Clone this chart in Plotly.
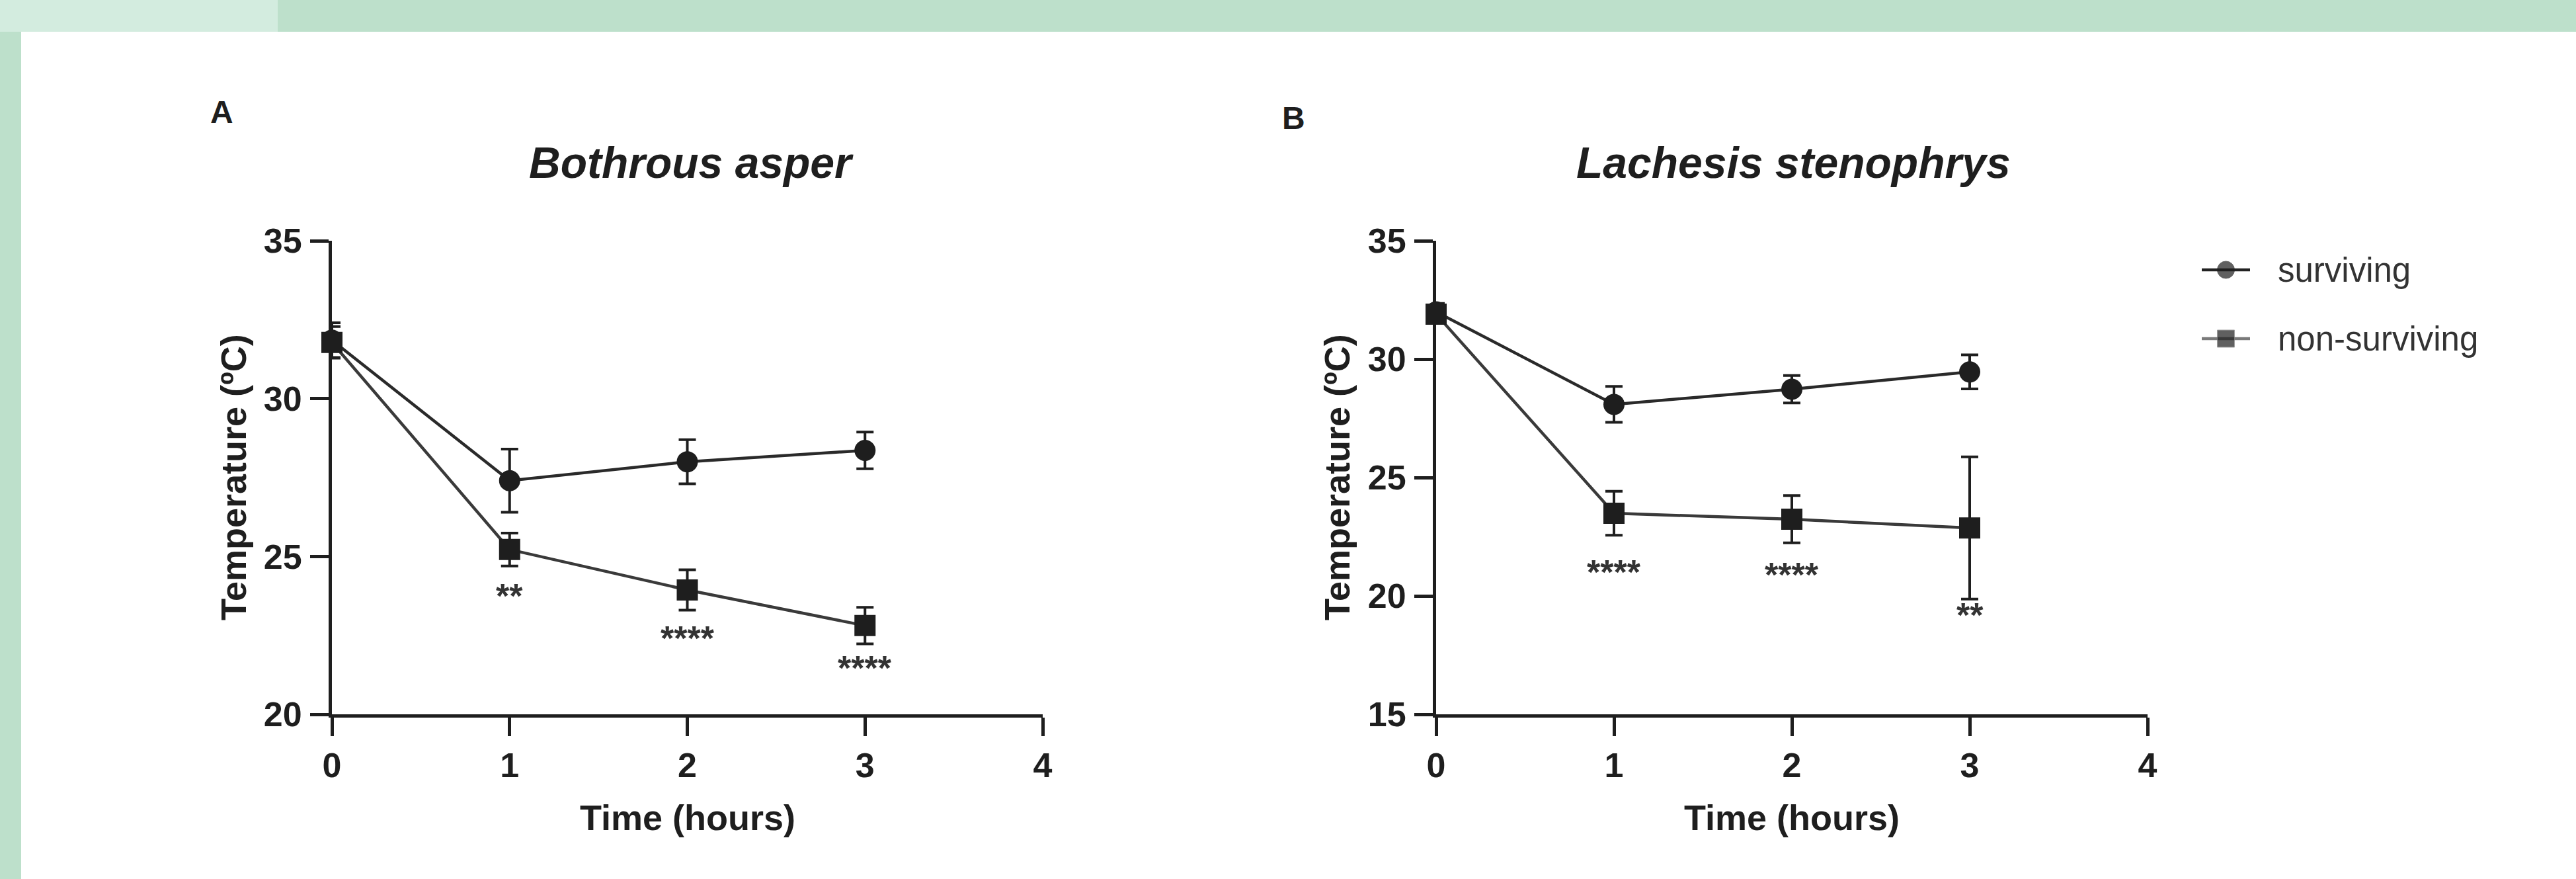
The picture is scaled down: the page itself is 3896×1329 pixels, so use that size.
import plotly.graph_objects as go

# ---------------- data ----------------
time_h = [0, 1, 2, 3]

a_surv_mean = [31.85, 27.4, 28.0, 28.36]
a_surv_err = [0.55, 1.0, 0.7, 0.58]
a_non_mean = [31.78, 25.22, 23.94, 22.81]
a_non_err = [0.5, 0.52, 0.64, 0.58]

b_surv_mean = [32.0, 28.09, 28.73, 29.46]
b_surv_err = [0.35, 0.76, 0.58, 0.72]
b_non_mean = [31.9, 23.49, 23.24, 22.87]
b_non_err = [0.35, 0.93, 1.0, 3.0]

a_sig_x = [1, 2, 3]
a_sig_y = [23.86, 22.52, 21.58]
a_sig_txt = ["**", "****", "****"]
b_sig_x = [1, 2, 3]
b_sig_y = [21.14, 21.03, 19.32]
b_sig_txt = ["****", "****", "**"]

x_ticks = [0, 1, 2, 3, 4]
a_y_ticks = [20, 25, 30, 35]
b_y_ticks = [15, 20, 25, 30, 35]
a_title = "Bothrous asper"
b_title = "Lachesis stenophrys"
panel_labels = ["A", "B"]
series_names = ["surviving", "non-surviving"]
x_title = "Time (hours)"
y_title = "Temperature (ºC)"

# ---------------- geometry ----------------
W, H = 3896, 1329
FONT = "Liberation Sans, Arial, Helvetica, sans-serif"
INK = "#1e1e1e"


def px(x):
    return x / W


def py(y):
    return 1 - y / H


y_dom = [py(1080), py(364)]
a_dom = [px(502), px(1577)]
b_dom = [px(2172), px(3248)]

fig = go.Figure()


def add_series(xa, ya, mean, err, symbol, linecolor):
    fig.add_trace(go.Scatter(
        x=time_h, y=mean, xaxis=xa, yaxis=ya, mode="lines+markers",
        line=dict(color=linecolor, width=4.5),
        marker=dict(symbol=symbol, size=32, color=INK),
        error_y=dict(type="data", array=err, visible=True, color=INK,
                     thickness=4, width=13),
        cliponaxis=False, showlegend=False))


add_series("x", "y", a_surv_mean, a_surv_err, "circle", "#2a2a2a")
add_series("x", "y", a_non_mean, a_non_err, "square", "#3a3a3a")
add_series("x2", "y2", b_surv_mean, b_surv_err, "circle", "#2a2a2a")
add_series("x2", "y2", b_non_mean, b_non_err, "square", "#3a3a3a")

# custom legend (own small hidden axes)
leg_dom_y = [py(540), py(380)]
leg_rows = [0.825, 0.175]
leg_symbols = ["circle", "square"]
leg_linecolors = ["#222222", "#7a7a7a"]
for i, name in enumerate(series_names):
    fig.add_trace(go.Scatter(
        x=[0, 0.5, 1], y=[leg_rows[i]] * 3, xaxis="x3", yaxis="y3",
        mode="lines+markers",
        line=dict(color=leg_linecolors[i], width=4.5),
        marker=dict(symbol=leg_symbols[i], size=[0, 26, 0], color=INK),
        cliponaxis=False, showlegend=False, hoverinfo="skip"))

axis_common = dict(
    showline=True, linewidth=5, linecolor=INK, ticks="outside", ticklen=28,
    tickwidth=5, tickcolor=INK, showgrid=False, zeroline=False,
    automargin=False,
    tickfont=dict(family=FONT, size=52, color=INK, weight="bold"),
)

fig.update_layout(
    width=W, height=H,
    margin=dict(l=0, r=0, t=0, b=0, pad=0, autoexpand=False),
    paper_bgcolor="#bde0cb",
    plot_bgcolor="rgba(0,0,0,0)",
    xaxis=dict(domain=a_dom, anchor="y", range=[0, 4], tickvals=x_ticks,
               ticklabelstandoff=0, **axis_common),
    yaxis=dict(domain=y_dom, anchor="x", range=[20, 35], tickvals=a_y_ticks,
               ticklabelstandoff=2, **axis_common),
    xaxis2=dict(domain=b_dom, anchor="y2", range=[0, 4], tickvals=x_ticks,
                ticklabelstandoff=0, **axis_common),
    yaxis2=dict(domain=y_dom, anchor="x2", range=[15, 35], tickvals=b_y_ticks,
                ticklabelstandoff=2, **axis_common),
    xaxis3=dict(domain=[px(3330), px(3403)], anchor="y3", range=[0, 1],
                visible=False),
    yaxis3=dict(domain=leg_dom_y, anchor="x3", range=[0, 1], visible=False),
)

# background: white panel over green frame
fig.add_shape(type="rect", xref="paper", yref="paper", layer="below",
              x0=px(32), x1=1.0, y0=0.0, y1=py(48),
              fillcolor="white", line=dict(width=0))
fig.add_shape(type="rect", xref="paper", yref="paper", layer="below",
              x0=0.0, x1=px(420), y0=py(48), y1=1.0,
              fillcolor="#d3ecdf", line=dict(width=0))

ann = []
# panel titles
ann.append(dict(text=a_title, x=px(1045), y=py(246), xref="paper", yref="paper",
                showarrow=False, xanchor="center", yanchor="middle",
                font=dict(family=FONT, size=66, color=INK, weight="bold",
                          style="italic")))
ann.append(dict(text=b_title, x=px(2712), y=py(246), xref="paper", yref="paper",
                showarrow=False, xanchor="center", yanchor="middle",
                font=dict(family=FONT, size=66, color=INK, weight="bold",
                          style="italic")))
# panel letters
for lab, xx, yy in zip(panel_labels, [335, 1956], [170, 178]):
    ann.append(dict(text=lab, x=px(xx), y=py(yy), xref="paper", yref="paper",
                    showarrow=False, xanchor="center", yanchor="middle",
                    font=dict(family=FONT, size=48, color=INK, weight="bold")))
# axis titles
for cx in [1040, 2710]:
    ann.append(dict(text=x_title, x=px(cx), y=py(1236), xref="paper",
                    yref="paper", showarrow=False, xanchor="center",
                    yanchor="middle",
                    font=dict(family=FONT, size=54, color=INK, weight="bold")))
for cx in [353, 2022]:
    ann.append(dict(text=y_title, x=px(cx), y=py(722), xref="paper",
                    yref="paper", showarrow=False, xanchor="center",
                    yanchor="middle", textangle=-90,
                    font=dict(family=FONT, size=54, color=INK, weight="bold")))
# significance stars
for xs, ys, ts, xr, yr in [(a_sig_x, a_sig_y, a_sig_txt, "x", "y"),
                           (b_sig_x, b_sig_y, b_sig_txt, "x2", "y2")]:
    for xv, yv, tv in zip(xs, ys, ts):
        ann.append(dict(text=tv, x=xv, y=yv, xref=xr, yref=yr,
                        showarrow=False, xanchor="center", yanchor="middle",
                        yshift=-5,
                        font=dict(family=FONT, size=52, color="#333333",
                                  weight="bold")))
# legend labels
for i, name in enumerate(series_names):
    ann.append(dict(text=name, x=px(3443), y=py([408, 512][i]), xref="paper",
                    yref="paper", showarrow=False, xanchor="left",
                    yanchor="middle",
                    font=dict(family=FONT, size=51, color="#333333")))

fig.update_layout(annotations=ann)
fig.write_html(
    "out.html",
    config={"displayModeBar": False, "staticPlot": True},
    post_script="document.body.style.margin='0px';"
                "document.body.style.background='#bde0cb';",
)
